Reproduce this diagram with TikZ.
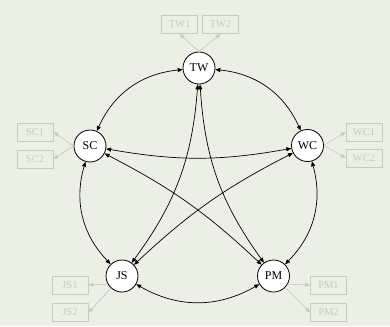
\documentclass[tikz,border=0pt]{standalone}
\usepackage{fontspec}
\setmainfont{Liberation Serif}
\usetikzlibrary{arrows.meta}
\definecolor{bg}{RGB}{236,239,227}
\definecolor{lat}{RGB}{200,204,192}
\begin{document}
\begin{tikzpicture}[x=1pt,y=-1pt,
  lv/.style={circle,draw=black,fill=white,line width=0.8pt,minimum size=32pt,inner sep=0pt,font=\fontsize{12}{14}\selectfont},
  ind/.style={rectangle,draw=lat,line width=0.8pt,minimum width=36pt,minimum height=18pt,inner sep=0pt,text=lat,font=\fontsize{10.5}{12}\selectfont},
  cov/.style={{Triangle[length=5pt,width=4pt]}-{Triangle[length=5pt,width=4pt]},line width=0.7pt,draw=black},
  load/.style={-{Triangle[length=5pt,width=4pt]},line width=0.7pt,draw=lat}]
\fill[bg] (0,0) rectangle (390,326);
\node[lv] (TW) at (199,68) {TW};
\node[lv] (SC) at (90,146) {SC};
\node[lv] (WC) at (307.5,145.5) {WC};
\node[lv] (JS) at (122,276) {JS};
\node[lv] (PM) at (273.5,276) {PM};
\node[ind] (TW1) at (179.5,24.5) {TW1};
\node[ind] (TW2) at (220.5,24.5) {TW2};
\node[ind] (SC1) at (35,132) {SC1};
\node[ind] (SC2) at (35,159) {SC2};
\node[ind] (WC1) at (364,132) {WC1};
\node[ind] (WC2) at (364,158) {WC2};
\node[ind] (JS1) at (70,285) {JS1};
\node[ind] (JS2) at (70,312.5) {JS2};
\node[ind] (PM1) at (328.5,285) {PM1};
\node[ind] (PM2) at (328.5,312.5) {PM2};
\draw[cov] (TW) to[bend right=30] (SC);
\draw[cov] (TW) to[bend left=30] (WC);
\draw[cov] (SC) to[bend right=30] (JS);
\draw[cov] (WC) to[bend left=30] (PM);
\draw[cov] (JS) to[bend right=30] (PM);
\draw[cov] (TW) to[bend left=16] (JS);
\draw[cov] (TW) to[bend right=16] (PM);
\draw[cov] (SC) to[bend right=10] (WC);
\draw[cov] (SC) to[bend left=8] (PM);
\draw[cov] (WC) to[bend right=8] (JS);
\draw[load] (TW.north) -- (TW1.south);
\draw[load] (TW.north) -- (TW2.south);
\draw[load] (SC.west) -- (SC1.east);
\draw[load] (SC.west) -- (SC2.east);
\draw[load] (WC.east) -- (WC1.west);
\draw[load] (WC.east) -- (WC2.west);
\draw[load] (JS.210) -- (JS1.east);
\draw[load] (JS) -- (JS2.east);
\draw[load] (PM.330) -- (PM1.west);
\draw[load] (PM) -- (PM2.west);
\end{tikzpicture}
\end{document}
